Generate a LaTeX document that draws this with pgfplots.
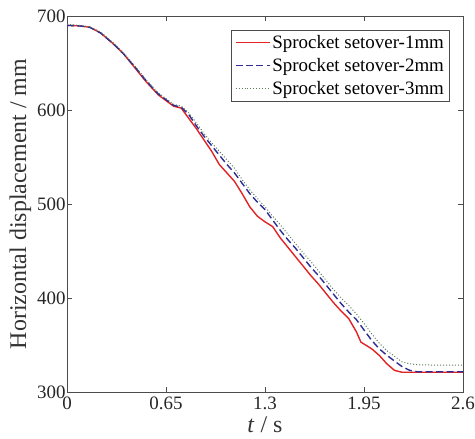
\documentclass[border=0pt]{standalone}
\usepackage{pgfplots}
\pgfplotsset{compat=1.18}
\usepackage{fontspec}
\setmainfont{Liberation Serif}
\definecolor{cred}{RGB}{225,35,35}
\definecolor{cblue}{RGB}{45,45,150}
\definecolor{cgreen}{RGB}{90,125,90}
\begin{document}
\begin{tikzpicture}
\begin{axis}[
  scale only axis,
  width=396bp, height=376bp,
  xmin=0, xmax=2.6, ymin=300, ymax=700,
  xtick={0,0.65,1.3,1.95,2.6},
  xticklabels={0,0.65,1.3,1.95,2.6},
  ytick={300,400,500,600,700},
  tick align=inside,
  tick pos=both,
  major tick length=5bp,
  /pgf/number format/assume math mode=true,
  tick label style={font=\fontsize{19}{21}\selectfont, text=black!85},
  xticklabel style={yshift=-1bp},
  yticklabel style={xshift=2bp},
  label style={font=\fontsize{24}{26}\selectfont, text=black!80},
  xlabel={\textit{t} / s},
  ylabel={Horizontal displacement / mm},
  xlabel style={yshift=-1bp},
  ylabel style={yshift=-1bp},
  axis line style={black!70, line width=0.6pt},
  every tick/.style={black!70, line width=0.6pt},
  legend style={at={(rel axis cs:0.965,0.963)}, anchor=north east,
    font=\fontsize{19}{21}\selectfont, draw=black!70,
    row sep=4.5bp, inner xsep=3bp, inner ysep=3bp,
    /tikz/every even column/.style={column sep=0pt}},
  legend cell align=left,
]
\addplot[cred, line width=1.4pt,
  legend image code/.code={\draw[cred, line width=1.8pt] (0cm,0cm) -- (34bp,0cm);}] coordinates {
(0,690) (0.08,689.5) (0.15,688) (0.22,682) (0.3,671) (0.37,660) (0.45,644) (0.52,630) (0.6,616) (0.65,610) (0.7,604) (0.75,602) (0.8,591) (0.85,580) (0.9,568) (0.95,556) (1.0,542) (1.05,533) (1.1,524) (1.15,511) (1.2,497) (1.25,487) (1.3,481) (1.35,476) (1.4,464) (1.45,454) (1.5,444) (1.55,434) (1.6,424) (1.65,415) (1.7,405) (1.75,395) (1.8,386) (1.85,378) (1.9,364) (1.93,353) (2.0,346) (2.05,339) (2.1,330) (2.15,323) (2.2,321) (2.3,321) (2.45,321) (2.6,321)};
\addlegendentry{Sprocket setover-1mm}
\addplot[cblue, line width=1.4pt, dash pattern=on 7pt off 3.5pt,
  legend image code/.code={\draw[cblue, line width=1.8pt, dash pattern=on 7pt off 3.5pt] (0cm,0cm) -- (34bp,0cm);}] coordinates {
(0,690) (0.08,689.5) (0.15,688) (0.22,682) (0.3,671) (0.37,660) (0.45,645) (0.52,631) (0.6,617) (0.65,611) (0.7,605) (0.75,603) (0.8,595) (0.85,583) (0.9,572) (0.95,562) (1.0,552) (1.05,542) (1.1,533) (1.15,522) (1.2,511) (1.25,502) (1.3,494) (1.35,483) (1.4,472) (1.45,462) (1.5,453) (1.55,443) (1.6,433) (1.65,424) (1.7,414) (1.75,404) (1.8,394) (1.85,385) (1.9,377) (1.95,366) (2.0,355) (2.05,346) (2.1,339) (2.15,333) (2.2,327) (2.25,323) (2.3,321.5) (2.45,321.5) (2.6,321.5)};
\addlegendentry{Sprocket setover-2mm}
\addplot[cgreen, line width=1pt, dotted,
  legend image code/.code={\draw[cgreen, line width=1pt, dotted] (0cm,0cm) -- (34bp,0cm);}] coordinates {
(0,691) (0.08,690) (0.15,688.5) (0.22,683) (0.3,672) (0.37,661) (0.45,646) (0.52,632) (0.6,618) (0.65,612) (0.7,606) (0.75,604) (0.8,597) (0.85,586) (0.9,575) (0.95,565) (1.0,556) (1.05,547) (1.1,538) (1.15,526) (1.2,515) (1.25,506) (1.3,497) (1.35,487) (1.4,478) (1.45,468) (1.5,458) (1.55,448) (1.6,439) (1.65,429) (1.7,419) (1.75,409) (1.8,400) (1.85,392) (1.9,383) (1.95,373) (2.0,362) (2.05,352) (2.1,344) (2.15,338) (2.2,332) (2.25,330) (2.3,329) (2.45,328.5) (2.6,328.5)};
\addlegendentry{Sprocket setover-3mm}
\end{axis}
\pgfresetboundingbox
\path (current axis.south west) ++(-67bp,-47bp) coordinate (bl);
\path (current axis.north east) ++(12bp,16bp) coordinate (tr);
\path (bl) rectangle (tr);
\end{tikzpicture}
\end{document}
